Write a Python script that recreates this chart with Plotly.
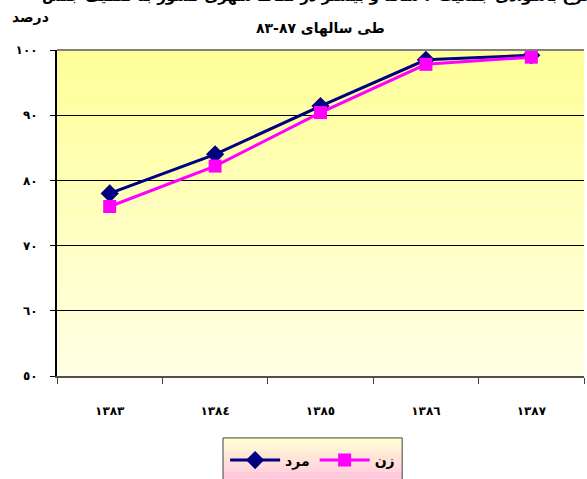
import plotly.graph_objects as go

years = ["١٣٨٣", "١٣٨٤", "١٣٨٥", "١٣٨٦", "١٣٨٧"]
male = [78.0, 84.0, 91.4, 98.5, 99.2]
female = [76.0, 82.2, 90.4, 97.8, 98.9]
ytick_vals = [50, 60, 70, 80, 90, 100]
ytick_text = ["٥٠", "٦٠", "٧٠", "٨٠", "٩٠", "١٠٠"]
series_names = ["مرد", "زن"]
title_line1 = "نرخ باسوادی جمعیت ۶ ساله و بیشتر در نقاط شهری کشور به تفکیک جنس"
title_line2 = "طی سالهای ٨٧-٨٣"
ylabel = "درصد"

FONT = "DejaVu Sans"

fig = go.Figure()
fig.add_trace(go.Scatter(
    x=years, y=male, name=series_names[0], mode="lines+markers",
    line=dict(color="#000080", width=3),
    marker=dict(symbol="diamond", size=14, color="#000080"),
))
fig.add_trace(go.Scatter(
    x=years, y=female, name=series_names[1], mode="lines+markers",
    line=dict(color="#FF00FF", width=3),
    marker=dict(symbol="square", size=13, color="#FF00FF"),
))

# gradient background of plot area
shapes = []
n = 60
top = (255, 255, 150)
bot = (255, 255, 228)
for i in range(n):
    t = i / (n - 1)
    c = tuple(round(top[k] + (bot[k] - top[k]) * t) for k in range(3))
    shapes.append(dict(type="rect", xref="x domain", yref="y domain",
                       x0=0, x1=1, y0=1 - (i + 1) / n, y1=1 - i / n,
                       fillcolor="rgb(%d,%d,%d)" % c, line=dict(width=0),
                       layer="below"))

# gradient legend background
lx0, lx1 = 0.315, 0.655
ly1, ly0 = -0.19, -0.32
m = 20
ltop = (255, 255, 205)
lbot = (255, 195, 220)
for i in range(m):
    t = i / (m - 1)
    c = tuple(round(ltop[k] + (lbot[k] - ltop[k]) * t) for k in range(3))
    shapes.append(dict(type="rect", xref="paper", yref="paper",
                       x0=lx0, x1=lx1, y0=ly1 - (i + 1) * (ly1 - ly0) / m,
                       y1=ly1 - i * (ly1 - ly0) / m,
                       fillcolor="rgb(%d,%d,%d)" % c, line=dict(width=0),
                       layer="above"))
shapes.append(dict(type="rect", xref="paper", yref="paper",
                   x0=lx0, x1=lx1, y0=ly0, y1=ly1,
                   line=dict(color="#404040", width=1), fillcolor="rgba(0,0,0,0)",
                   layer="above"))

fig.update_layout(
    width=587, height=479,
    margin=dict(l=57, r=3, t=50, b=97),
    paper_bgcolor="white",
    plot_bgcolor="rgb(255,255,228)",
    font=dict(family=FONT, size=12, color="black"),
    showlegend=True,
    legend=dict(orientation="h", x=0.485, xanchor="center", y=-0.21, yanchor="top",
                bgcolor="rgba(0,0,0,0)", borderwidth=0,
                font=dict(family=FONT, size=14, color="black", weight="bold"),
                itemwidth=50, traceorder="normal"),
    shapes=shapes,
    annotations=[
        dict(text="<b>" + title_line1 + "</b>", xref="paper", yref="paper",
             x=0.49, y=1.165, xanchor="center", yanchor="middle", showarrow=False,
             font=dict(family=FONT, size=15)),
        dict(text="<b>" + title_line2 + "</b>", xref="paper", yref="paper",
             x=0.5, y=1.066, xanchor="center", yanchor="middle", showarrow=False,
             font=dict(family=FONT, size=14)),
        dict(text="<b>" + ylabel + "</b>", xref="paper", yref="paper",
             x=-0.051, y=1.1, xanchor="center", yanchor="middle", showarrow=False,
             font=dict(family=FONT, size=14)),
    ],
)

fig.update_xaxes(
    type="category", range=[-0.5, 4.5], tickson="boundaries", automargin=False,
    ticks="outside", ticklen=6, tickcolor="#404040", tickwidth=1,
    showline=True, linecolor="#505050", linewidth=2, mirror=False,
    showgrid=False, ticklabelstandoff=23,
    tickfont=dict(family=FONT, size=12, weight="bold"),
)
fig.update_yaxes(
    range=[50, 100], tickvals=ytick_vals, ticktext=ytick_text, automargin=False,
    ticks="outside", ticklen=5, tickcolor="black",
    showline=True, linecolor="black", linewidth=2,
    showgrid=True, gridcolor="black", gridwidth=1, zeroline=False,
    ticklabelstandoff=10,
    tickfont=dict(family=FONT, size=12, weight="bold"),
)
# gray top border
fig.add_shape(type="line", xref="x domain", yref="y domain", x0=0, x1=1, y0=1, y1=1,
              line=dict(color="#808080", width=2), layer="above")

fig.write_html("out.html", config={"displayModeBar": False},
               post_script="document.body.style.margin='0px';document.body.style.overflow='hidden';")
